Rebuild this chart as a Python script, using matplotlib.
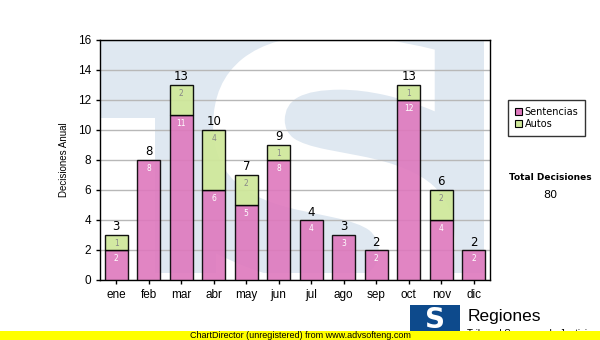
import matplotlib.pyplot as plt
import numpy as np
from matplotlib.font_manager import FontProperties
from matplotlib.patches import PathPatch, Rectangle
from matplotlib.textpath import TextPath
from matplotlib.transforms import Affine2D

meses = ['ene', 'feb', 'mar', 'abr', 'may', 'jun', 'jul', 'ago', 'sep', 'oct', 'nov', 'dic']
sentencias = [2, 8, 11, 6, 5, 8, 4, 3, 2, 12, 4, 2]
autos = [1, 0, 2, 4, 2, 1, 0, 0, 0, 1, 2, 0]
series_names = ['Sentencias', 'Autos']

PINK = '#de78bd'
GREEN = '#cfe89a'
WM_BLUE = '#dfe8f1'

fig = plt.figure(figsize=(6, 3.4), dpi=100)
ax = fig.add_axes([100 / 600, 60 / 340, 390 / 600, 240 / 340])

# logotipo de fondo: bloque azul claro con una "S" blanca
ax.add_patch(Rectangle((0, 0.028), 0.985, 0.972, transform=ax.transAxes,
                       facecolor=WM_BLUE, edgecolor='none', zorder=0.4))
ax.add_patch(Rectangle((0, 0), 0.141, 0.675, transform=ax.transAxes,
                       facecolor='white', edgecolor='none', zorder=0.45))
tp = TextPath((0, 0), 'S', size=1, prop=FontProperties(family='DejaVu Sans', weight='bold'))
ext = tp.get_extents()
sx = 0.62 / ext.width
sy = 1.26 / ext.height
tr = Affine2D().translate(-ext.x0, -ext.y0).scale(sx, sy).translate(0.29, -0.24)
wm = PathPatch(tr.transform_path(tp), facecolor='white', edgecolor='none',
               transform=ax.transAxes, zorder=0.5)
ax.add_patch(wm)
wm.set_clip_path(ax.patch)

x = np.arange(len(meses))
s = np.array(sentencias)
a = np.array(autos)
tot = s + a

ax.bar(x, s, width=0.7, color=PINK, alpha=0.9, edgecolor='black', linewidth=1, zorder=3,
       label=series_names[0])
m = a > 0
ax.bar(x[m], a[m], bottom=s[m], width=0.7, color=GREEN, alpha=0.93, edgecolor='black',
       linewidth=1, zorder=3, label=series_names[1])

for i in range(len(meses)):
    ax.text(x[i], s[i] - 0.25, str(s[i]), ha='center', va='top', fontsize=5.5,
            color='white', zorder=4)
    if a[i] > 0:
        ax.text(x[i], tot[i] - 0.25, str(a[i]), ha='center', va='top', fontsize=5.5,
                color='#888888', zorder=4)
    ax.text(x[i], tot[i] + 0.1, str(tot[i]), ha='center', va='bottom', fontsize=8.5,
            color='black', zorder=4)

ax.set_xlim(-0.5, len(meses) - 0.5)
ax.set_ylim(0, 16)
ax.set_yticks(range(0, 17, 2))
ax.set_xticks(x)
ax.set_xticklabels(meses)
ax.tick_params(axis='both', labelsize=8.5, length=3, width=1, color='black')
for lbl in ax.get_xticklabels() + ax.get_yticklabels():
    lbl.set_family('Liberation Sans')
ax.yaxis.grid(True, color='#b8b8b8', linewidth=1, zorder=1)
ax.set_axisbelow(True)
for sp in ax.spines.values():
    sp.set_linewidth(1)
    sp.set_color('black')
ax.set_ylabel('Decisiones Anual', fontsize=7, family='Liberation Sans', labelpad=6)

leg = fig.legend(loc='upper left', bbox_to_anchor=(508 / 600, 1 - 100 / 340),
                 fontsize=7, frameon=True, fancybox=False, edgecolor='black',
                 handlelength=0.7, handleheight=0.7, handletextpad=0.3,
                 borderpad=0.7, labelspacing=0.2, borderaxespad=0)
leg.get_frame().set_linewidth(1)
for h in leg.legend_handles:
    h.set_edgecolor('black')
    h.set_linewidth(0.8)
    h.set_alpha(1)

fig.text(550 / 600, 1 - 177 / 340, 'Total Decisiones', ha='center', va='center',
         fontsize=6.5, weight='bold')
fig.text(550 / 600, 1 - 195 / 340, str(int(tot.sum())), ha='center', va='center',
         fontsize=8)

# logotipo inferior
fig.patches.append(Rectangle((410 / 600, 1 - 331 / 340), 50 / 600, 26 / 340,
                             transform=fig.transFigure, facecolor='#0d4a8c',
                             edgecolor='none', zorder=1))
fig.text(435 / 600, 1 - 320 / 340, 'S', ha='center', va='center', fontsize=20,
         weight='bold', color='white', zorder=2)
fig.text(468 / 600, 1 - 316 / 340, 'Regiones', ha='left', va='center', fontsize=12.5,
         family='Liberation Sans', zorder=2)
fig.text(467 / 600, 1 - 334 / 340, 'Tribunal Supremo de Justicia', ha='left', va='center',
         fontsize=7, family='Liberation Sans', zorder=2)

# franja amarilla
fig.patches.append(Rectangle((0, 0), 1, 9 / 340, transform=fig.transFigure,
                             facecolor='#ffff00', edgecolor='none', zorder=5))
fig.text(0.5, 4.5 / 340, 'ChartDirector (unregistered) from www.advsofteng.com',
         ha='center', va='center', fontsize=6.5, family='Liberation Sans', zorder=6)

fig.savefig('out.png', dpi=100)
